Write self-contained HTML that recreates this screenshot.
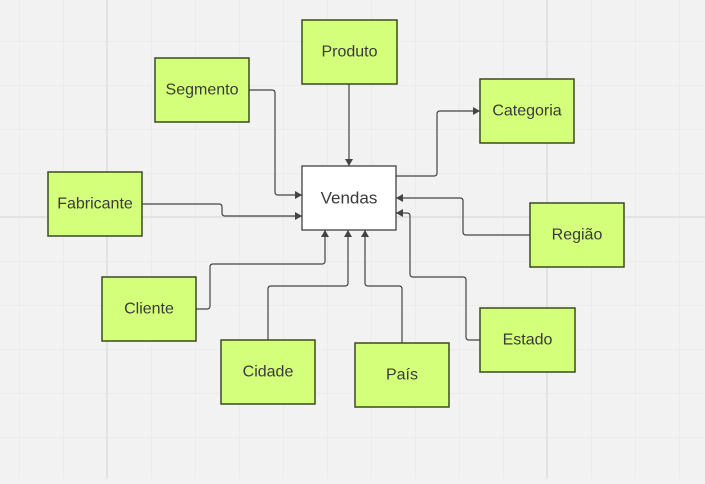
<!DOCTYPE html>
<html><head><meta charset="utf-8"><style>
html,body{margin:0;padding:0;}
body{width:705px;height:479px;overflow:hidden;background:#f2f2f2;font-family:"Liberation Sans",sans-serif;}
</style></head><body>
<svg width="705" height="479" xmlns="http://www.w3.org/2000/svg">
<defs>
<pattern id="g" x="19" y="41" width="44" height="44" patternUnits="userSpaceOnUse">
<path d="M0 0V44M0 0H44" stroke="#e6e6e6" stroke-width="1" fill="none"/>
</pattern>
<marker id="a" markerWidth="8" markerHeight="8" refX="7" refY="4" orient="auto" markerUnits="userSpaceOnUse">
<path d="M0,0 L7,4 L0,8 z" fill="#444"/>
</marker>
</defs>
<rect width="705" height="479" fill="url(#g)"/>
<path d="M107 0V479M547 0V479M0 217H705" stroke="#dedede" stroke-width="1.5"/>
<g fill="none" stroke="#444" stroke-width="1.2" marker-end="url(#a)">
<path d="M349 84V166"/>
<path d="M249 90H272Q275 90 275 93V192Q275 195 278 195H302"/>
<path d="M396 176H434Q437 176 437 173V114Q437 111 440 111H480"/>
<path d="M142 204H219Q222 204 222 207V213Q222 216 225 216H302"/>
<path d="M530 235H466Q463 235 463 232V201Q463 198 460 198H396"/>
<path d="M480 340H469Q466 340 466 337V280Q466 277 463 277H413Q410 277 410 274V216Q410 213 407 213H396"/>
<path d="M196 309H207Q210 309 210 306V267Q210 264 213 264H322Q325 264 325 261V230"/>
<path d="M268 340V289Q268 286 271 286H345Q348 286 348 283V230"/>
<path d="M402 343V289Q402 286 399 286H368Q365 286 365 283V230"/>
</g>
<g stroke="#3a4a20" stroke-width="1.5" fill="#d4ff7a">
<rect x="302" y="20" width="95" height="64"/>
<rect x="155" y="58" width="94" height="64"/>
<rect x="480" y="79" width="94" height="64"/>
<rect x="48" y="172" width="94" height="64"/>
<rect x="530" y="203" width="94" height="64"/>
<rect x="102" y="277" width="94" height="64"/>
<rect x="480" y="308" width="95" height="64"/>
<rect x="221" y="340" width="94" height="64"/>
<rect x="355" y="343" width="94" height="64"/>
</g>
<rect x="302" y="166" width="94" height="64" fill="#fff" stroke="#333" stroke-width="1.2"/>
<g font-family="Liberation Sans, sans-serif" font-size="16" fill="#3a3a3a" text-anchor="middle" dominant-baseline="central">
<text x="349.5" y="52">Produto</text>
<text x="202" y="90">Segmento</text>
<text x="527" y="111">Categoria</text>
<text x="349" y="198" font-size="17">Vendas</text>
<text x="95" y="204">Fabricante</text>
<text x="577" y="235">Região</text>
<text x="149" y="309">Cliente</text>
<text x="527.5" y="340">Estado</text>
<text x="268" y="372">Cidade</text>
<text x="402" y="375">País</text>
</g>
</svg>
</body></html>
